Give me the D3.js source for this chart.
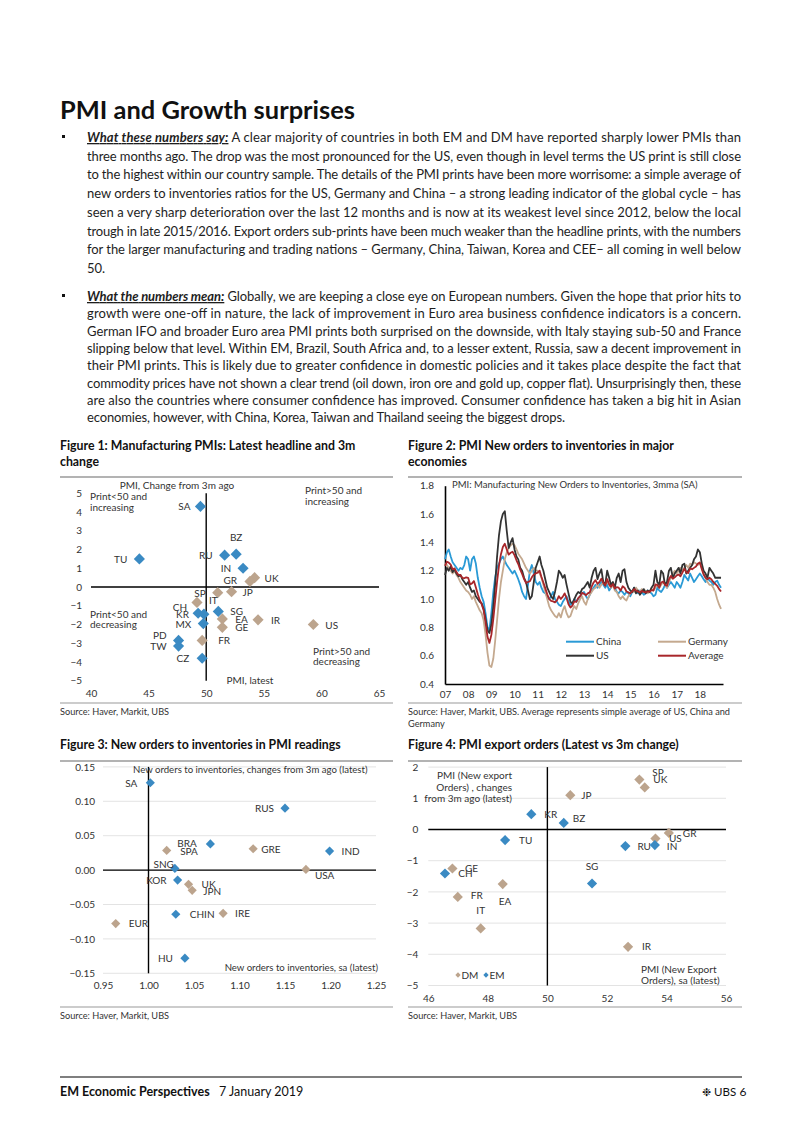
<!DOCTYPE html>
<html><head><meta charset="utf-8">
<script src="https://cdn.jsdelivr.net/npm/d3@7"></script>
<style>
body{margin:0;background:#fff;}
svg text{font-family:Lato,"Open Sans",sans-serif;}
</style></head><body>
<svg id="page" width="802" height="1133"></svg>
<script>
// ---------------- DATA ----------------
// Figure 1: Manufacturing PMIs
const fig1Countries = ["SA","TU","RU","BZ","IN","UK","GR","JP","SP","IT","CH","KR","MX","SG","EA","GE","IR","US","FR","PD","TW","CZ"];
const fig1Latest = [49.5,44.2,51.6,52.6,53.2,54.2,53.8,52.2,51.0,49.2,49.3,49.8,49.75,51.05,51.4,51.4,54.5,59.3,49.65,47.6,47.6,49.65];
const fig1Change = [4.3,1.5,1.7,1.75,1.0,0.5,0.3,-0.25,-0.3,-0.82,-1.4,-1.45,-1.95,-1.3,-1.7,-2.15,-1.75,-2.0,-2.85,-2.85,-3.15,-3.8];
const fig1Group = ["EM","EM","EM","EM","EM","DM","DM","DM","DM","DM","EM","EM","EM","EM","DM","DM","DM","DM","DM","EM","EM","EM"];
const fig1XTicks = [40,45,50,55,60,65];
const fig1YTicks = [-5,-4,-3,-2,-1,0,1,2,3,4,5];

// Figure 2: New orders to inventories (monthly, Jan 2007 - Dec 2018)
const fig2China = [
1.28,1.33,1.35,1.30,1.26,1.24,1.22,1.20,1.22,1.21,1.24,1.30,
1.28,1.20,1.28,1.30,1.25,1.15,1.08,1.02,0.98,0.90,0.80,0.78,
0.90,1.05,1.15,1.22,1.25,1.28,1.30,1.27,1.24,1.22,1.20,1.18,
1.20,1.17,1.14,1.10,1.05,1.02,1.00,1.10,1.20,1.24,1.18,1.12,
1.10,1.12,1.08,1.05,1.04,1.02,1.00,1.02,1.05,1.00,0.98,0.96,
0.95,0.98,1.00,1.02,0.98,0.96,0.97,1.00,0.98,1.00,1.02,1.04,
1.05,1.02,1.00,1.03,1.06,1.08,1.10,1.08,1.10,1.12,1.10,1.08,
1.10,1.06,1.08,1.10,1.08,1.05,1.04,1.06,1.05,1.03,1.05,1.04,
1.02,1.05,1.08,1.06,1.04,1.06,1.05,1.03,1.04,1.06,1.05,1.04,
1.02,1.03,1.08,1.06,1.05,1.07,1.10,1.08,1.10,1.12,1.10,1.08,
1.12,1.10,1.08,1.12,1.17,1.15,1.13,1.18,1.15,1.12,1.14,1.16,
1.18,1.16,1.14,1.12,1.15,1.13,1.12,1.10,1.12,1.13,1.10,1.08];
const fig2Germany = [
1.25,1.24,1.22,1.20,1.18,1.20,1.17,1.15,1.12,1.10,1.08,1.06,
1.05,1.03,1.00,1.02,0.98,0.95,0.92,0.90,0.85,0.75,0.62,0.53,
0.52,0.58,0.70,0.85,1.00,1.12,1.20,1.28,1.33,1.36,1.38,1.39,
1.38,1.35,1.32,1.30,1.28,1.25,1.22,1.20,1.18,1.20,1.22,1.20,
1.20,1.18,1.15,1.10,1.05,1.00,0.95,0.92,0.90,0.88,0.87,0.90,
0.87,0.92,0.95,0.90,0.87,0.88,0.92,0.95,0.93,0.97,1.00,1.02,
0.98,0.96,1.00,1.03,1.05,1.07,1.08,1.10,1.08,1.10,1.12,1.10,
1.12,1.10,1.08,1.10,1.06,1.05,1.02,1.00,1.02,1.00,0.99,1.02,
1.04,1.06,1.05,1.08,1.06,1.05,1.07,1.05,1.06,1.04,1.05,1.07,
1.06,1.08,1.10,1.08,1.10,1.12,1.10,1.08,1.12,1.15,1.18,1.20,
1.18,1.20,1.22,1.20,1.22,1.24,1.22,1.25,1.24,1.26,1.25,1.24,
1.26,1.22,1.18,1.15,1.12,1.10,1.10,1.08,1.05,1.00,0.96,0.93];
const fig2US = [
1.17,1.22,1.20,1.23,1.19,1.21,1.18,1.16,1.17,1.14,1.12,1.10,
1.12,1.08,1.05,1.06,1.02,1.00,0.98,0.97,0.93,0.86,0.78,0.76,
0.82,0.95,1.10,1.30,1.45,1.55,1.60,1.62,1.48,1.36,1.40,1.43,
1.35,1.30,1.28,1.22,1.20,1.15,1.12,1.06,1.00,1.02,1.12,1.22,
1.26,1.30,1.24,1.20,1.14,1.08,1.05,1.02,1.00,1.05,1.12,1.20,
1.18,1.15,1.17,1.10,1.04,0.98,0.97,1.00,1.03,1.05,1.04,1.07,
1.08,1.10,1.12,1.08,1.15,1.20,1.22,1.14,1.18,1.21,1.12,1.10,
1.20,1.15,1.10,1.12,1.08,1.15,1.18,1.12,1.20,1.21,1.12,1.08,
1.06,1.05,1.08,1.04,1.06,1.03,1.05,1.07,1.04,1.06,1.05,1.08,
1.10,1.20,1.12,1.10,1.20,1.18,1.10,1.12,1.20,1.22,1.15,1.18,
1.20,1.22,1.18,1.24,1.25,1.18,1.20,1.22,1.24,1.28,1.30,1.35,
1.33,1.25,1.20,1.18,1.15,1.22,1.20,1.18,1.15,1.15,1.15,1.15];
const fig2YearLabels = ["07","08","09","10","11","12","13","14","15","16","17","18"];
const fig2YTicks = [0.4,0.6,0.8,1.0,1.2,1.4,1.6,1.8];

// Figure 3: New orders to inventories in PMI readings
const fig3Countries = ["SA","RUS","BRA","SPA","GRE","IND","SNG","USA","KOR","UK","JPN","CHIN","IRE","EUR","HU"];
const fig3Level = [1.002,1.150,1.068,1.020,1.115,1.199,1.029,1.173,1.032,1.044,1.048,1.030,1.082,0.964,1.040];
const fig3Change = [0.127,0.090,0.038,0.0286,0.031,0.0276,0.0025,0.001,-0.0145,-0.0207,-0.0294,-0.0642,-0.0628,-0.0777,-0.128];
const fig3Group = ["EM","EM","EM","DM","DM","EM","EM","DM","EM","DM","DM","EM","DM","DM","EM"];
const fig3XTicks = [0.95,1.00,1.05,1.10,1.15,1.20,1.25];
const fig3YTicks = [-0.15,-0.10,-0.05,0,0.05,0.10,0.15];

// Figure 4: PMI export orders
const fig4Countries = ["SP","UK","JP","KR","BZ","GR","US","TU","RU","IN","GE","CH","SG","EA","FR","IT","IR"];
const fig4Level = [53.09,53.27,50.77,49.46,50.55,54.08,53.63,48.58,52.62,53.61,46.81,46.56,51.5,48.5,46.99,47.76,52.71];
const fig4Change = [1.60,1.35,1.10,0.49,0.21,-0.11,-0.29,-0.34,-0.53,-0.50,-1.25,-1.41,-1.73,-1.75,-2.16,-3.17,-3.76];
const fig4Group = ["DM","DM","DM","EM","EM","DM","DM","EM","EM","EM","DM","EM","EM","DM","DM","DM","DM"];
const fig4XTicks = [46,48,50,52,54,56];
const fig4YTicks = [-5,-4,-3,-2,-1,0,1,2];

// ---------------- LABEL LAYOUT (offsets from each point) ----------------
const fig1LabelPos = [[-10,4,"end"],[-12,4,"end"],[-12,4,"end"],[0,-13,"middle"],[-12,4,"end"],[10,4,"start"],[-13,3,"end"],[11,4,"start"],[-12,4,"end"],[12,2,"start"],[-11,-2.5,"end"],[-15,4,"end"],[-12,4,"end"],[12,3.5,"start"],[13,4,"start"],[13,4,"start"],[13,4,"start"],[12,4,"start"],[16,3.5,"start"],[-12,-1.5,"end"],[-12,4,"end"],[-13,4,"end"]];
const fig3LabelPos = [[-13,4,"end"],[-11,4,"end"],[-13.5,3,"end"],[13.5,5,"start"],[8,4,"start"],[12,4,"start"],[-1,0,"end"],[9,10,"start"],[-11,3.5,"end"],[13,3.5,"start"],[11,4.5,"start"],[14,3.5,"start"],[12,3.5,"start"],[13,3.5,"start"],[-12,3.5,"end"]];
const fig4LabelPos = [[13,-3.5,"start"],[8.6,-4,"start"],[11,4,"start"],[13,3.3,"start"],[9,-0.5,"start"],[14,4,"start"],[13.5,3.3,"start"],[14,3.5,"start"],[12,3.5,"start"],[12,4.4,"start"],[12.6,3.3,"start"],[13.3,3.3,"start"],[0,-13.3,"middle"],[2.4,20.4,"middle"],[13,2.6,"start"],[0,-14.2,"middle"],[14,3.5,"start"]];

// ---------------- TEXT ----------------
const para1Lead = "What these numbers say:";
const para1 = [
" A clear majority of countries in both EM and DM have reported sharply lower PMIs than",
"three months ago. The drop was the most pronounced for the US, even though in level terms the US print is still close",
"to the highest within our country sample. The details of the PMI prints have been more worrisome: a simple average of",
"new orders to inventories ratios for the US, Germany and China \u2013 a strong leading indicator of the global cycle \u2013 has",
"seen a very sharp deterioration over the last 12 months and is now at its weakest level since 2012, below the local",
"trough in late 2015/2016. Export orders sub-prints have been much weaker than the headline prints, with the numbers",
"for the larger manufacturing and trading nations \u2013 Germany, China, Taiwan, Korea and CEE\u2013 all coming in well below",
"50."];
const para2Lead = "What the numbers mean:";
const para2 = [
" Globally, we are keeping a close eye on European numbers. Given the hope that prior hits to",
"growth were one-off in nature, the lack of improvement in Euro area business confidence indicators is a concern.",
"German IFO and broader Euro area PMI prints both surprised on the downside, with Italy staying sub-50 and France",
"slipping below that level. Within EM, Brazil, South Africa and, to a lesser extent, Russia, saw a decent improvement in",
"their PMI prints. This is likely due to greater confidence in domestic policies and it takes place despite the fact that",
"commodity prices have not shown a clear trend (oil down, iron ore and gold up, copper flat). Unsurprisingly then, these",
"are also the countries where consumer confidence has improved. Consumer confidence has taken a big hit in Asian",
"economies, however, with China, Korea, Taiwan and Thailand seeing the biggest drops."];

// ---------------- DRAWING ----------------
const svg = d3.select("#page");
const FONT = "Lato, 'Open Sans', sans-serif";
const BLUE = "#3a8ac3", TAN = "#bca48d", TXT = "#1e1e1e";

svg.append("text").attr("x",60).attr("y",119).attr("font-size",25).attr("font-weight",700)
  .attr("fill","#111").attr("textLength",295).attr("lengthAdjust","spacingAndGlyphs").text("PMI and Growth surprises");

function paragraph(lead, lines, y0, lh, lastWidth){
  svg.append("rect").attr("x",62).attr("y",y0-7).attr("width",3).attr("height",3).attr("fill","#111");
  lines.forEach((ln,i)=>{
    const t = svg.append("text").attr("x",87).attr("y",y0+i*lh).attr("font-size",13).attr("fill",TXT);
    if(i===0){
      t.append("tspan").attr("font-style","italic").attr("font-weight",700)
        .attr("text-decoration","underline").text(lead);
    }
    t.append("tspan").text(ln);
    const full = i<lines.length-1;
    const target = full ? 654 : lastWidth;
    if(target) t.attr("textLength",target).attr("lengthAdjust","spacing");
  });
}
paragraph(para1Lead, para1, 142, 18.7, null);
paragraph(para2Lead, para2, 301, 17.3, 478);

// figure frames
function frame(x0,x1,titleLines,titleY,lineY,srcLineY,srcLines){
  titleLines.forEach((s,i)=>svg.append("text").attr("x",x0).attr("y",titleY+i*16).attr("font-size",12.3)
    .attr("font-weight",700).attr("fill","#111").text(s));
  svg.append("line").attr("x1",x0).attr("x2",x1).attr("y1",lineY).attr("y2",lineY).attr("stroke","#9a9a9a").attr("stroke-width",1.6);
  svg.append("line").attr("x1",x0).attr("x2",x1).attr("y1",srcLineY).attr("y2",srcLineY).attr("stroke","#9a9a9a").attr("stroke-width",1.2);
  srcLines.forEach((s,i)=>svg.append("text").attr("x",x0).attr("y",srcLineY+12+i*12).attr("font-size",9.2)
    .attr("fill","#333").text(s));
}
frame(60,393,["Figure 1: Manufacturing PMIs: Latest headline and 3m","change"],450,477,703,["Source:  Haver, Markit, UBS"]);
frame(408,742,["Figure 2: PMI New orders to inventories in major","economies"],450,477,703,
  ["Source:  Haver, Markit, UBS. Average represents simple average of US, China and","Germany"]);
frame(60,393,["Figure 3: New orders to inventories in PMI readings"],749,761,1007,["Source:  Haver, Markit, UBS"]);
frame(408,742,["Figure 4: PMI export orders (Latest vs 3m change)"],749,761,1007,["Source:  Haver, Markit, UBS"]);

function styleAxis(a){
  a.selectAll("text").attr("font-family",FONT).attr("font-size",10).attr("fill","#333");
}

function scatterChart(o){
  const g = svg.append("g");
  const x = d3.scaleLinear().domain(o.xDomain).range(o.xRange);
  const y = d3.scaleLinear().domain(o.yDomain).range(o.yRange);
  if(o.grid){
    g.selectAll("line.grid").data(o.yTicks).join("line").attr("class","grid")
      .attr("x1",o.xRange[0]).attr("x2",o.xRange[1]).attr("y1",d=>y(d)).attr("y2",d=>y(d))
      .attr("stroke","#dcdcdc").attr("stroke-width",0.8);
  }
  const ay = g.append("g").attr("transform",`translate(${o.xRange[0]},0)`)
    .call(d3.axisLeft(y).tickValues(o.yTicks).tickFormat(o.yFmt).tickSize(0).tickPadding(o.yPad));
  ay.select(".domain").remove(); styleAxis(ay);
  const ax = g.append("g").attr("transform",`translate(0,${o.yRange[0]})`)
    .call(d3.axisBottom(x).tickValues(o.xTicks).tickFormat(o.xFmt).tickSize(0).tickPadding(o.xPad));
  ax.select(".domain").remove(); styleAxis(ax);
  g.append("line").attr("x1",x(o.xCross)).attr("x2",x(o.xCross)).attr("y1",y(o.yDomain[1])).attr("y2",y(o.yDomain[0]))
    .attr("stroke","#000").attr("stroke-width",1.4);
  g.append("line").attr("x1",x(o.xDomain[0])).attr("x2",x(o.xDomain[1])).attr("y1",y(o.yCross)).attr("y2",y(o.yCross))
    .attr("stroke","#000").attr("stroke-width",1.4);
  const data = o.names.map((n,i)=>({n,xv:o.xs[i],yv:o.ys[i],grp:o.groups[i],lp:o.labels[i]}));
  g.selectAll("path.pt").data(data).join("path").attr("class","pt")
    .attr("d",d3.symbol(d3.symbolSquare,o.size)())
    .attr("transform",d=>`translate(${x(d.xv)},${y(d.yv)}) rotate(45)`)
    .attr("fill",d=>d.grp==="EM"?BLUE:TAN);
  g.selectAll("text.lbl").data(data).join("text").attr("class","lbl")
    .attr("x",d=>x(d.xv)+d.lp[0]).attr("y",d=>y(d.yv)+d.lp[1]).attr("text-anchor",d=>d.lp[2])
    .attr("font-size",10).attr("fill","#333").text(d=>d.n);
  (o.notes||[]).forEach(nt=>g.append("text").attr("x",nt[0]).attr("y",nt[1]).attr("text-anchor",nt[3]||"start")
    .attr("font-size",nt[4]||10).attr("fill","#333").text(nt[2]));
  return {g,x,y};
}

// Figure 1
scatterChart({
  names:fig1Countries, xs:fig1Latest, ys:fig1Change, groups:fig1Group, labels:fig1LabelPos,
  xDomain:[40,65], xRange:[91,379], yDomain:[-5,5], yRange:[680.75,493.25],
  xTicks:fig1XTicks, yTicks:fig1YTicks, xFmt:d3.format("d"), yFmt:d3.format("d"), xPad:9, yPad:9,
  xCross:50, yCross:0, size:62, grid:false,
  notes:[[177,488.5,"PMI, Change from 3m ago","middle"],[90,500,"Print<50 and"],[90,511,"increasing"],
    [305,494,"Print>50 and"],[305,505,"increasing"],[90,617.5,"Print<50 and"],[90,628,"decreasing"],
    [313,654.5,"Print>50 and"],[313,665,"decreasing"],[250,684,"PMI, latest","middle"]]
});

// Figure 3
scatterChart({
  names:fig3Countries, xs:fig3Level, ys:fig3Change, groups:fig3Group, labels:fig3LabelPos,
  xDomain:[0.95,1.25], xRange:[103,376], yDomain:[-0.15,0.15], yRange:[973.3,766.9],
  xTicks:fig3XTicks, yTicks:fig3YTicks, xFmt:d3.format(".2f"), yFmt:d3.format(".2f"), xPad:8.5, yPad:8,
  xCross:1.0, yCross:0, size:42, grid:true,
  notes:[[133,772.5,"New orders to inventories, changes from 3m ago (latest)","start",9.6],
    [378,971,"New orders to inventories, sa  (latest)","end",9.6]]
});

// Figure 4
scatterChart({
  names:fig4Countries, xs:fig4Level, ys:fig4Change, groups:fig4Group, labels:fig4LabelPos,
  xDomain:[46,56], xRange:[428.3,726], yDomain:[-5,2], yRange:[985.5,767.1],
  xTicks:fig4XTicks, yTicks:fig4YTicks, xFmt:d3.format("d"), yFmt:d3.format("d"), xPad:9, yPad:10,
  xCross:50, yCross:0, size:52, grid:true,
  notes:[[512,779,"PMI (New export","end"],[512,790.5,"Orders) , changes","end"],[512,802,"from 3m ago (latest)","end"],
    [641,972.5,"PMI (New Export"],[641,983.5,"Orders), sa (latest)"]]
});
// Figure 4 legend
[["DM",TAN,458],["EM",BLUE,486]].forEach(([lab,c,lx])=>{
  svg.append("path").attr("d",d3.symbol(d3.symbolSquare,14)()).attr("transform",`translate(${lx},975) rotate(45)`).attr("fill",c);
  svg.append("text").attr("x",lx+3.5).attr("y",978.5).attr("font-size",10).attr("fill","#333").text(lab);
});

// Figure 2
(function(){
  const months = d3.timeMonth.range(new Date(2007,0,1), new Date(2019,0,1));
  const x = d3.scaleTime().domain([new Date(2007,0,1), new Date(2019,0,1)]).range([445,723]);
  const y = d3.scaleLinear().domain([0.4,1.8]).range([684,485.7]);
  const g = svg.append("g");
  const ay = g.append("g").attr("transform","translate(445,0)")
    .call(d3.axisLeft(y).tickValues(fig2YTicks).tickFormat(d3.format(".1f")).tickSize(0).tickSizeOuter(0).tickPadding(11));
  ay.select(".domain").attr("stroke","#000").attr("stroke-width",1.6);
  styleAxis(ay);
  const years = fig2YearLabels.map((s,i)=>new Date(2007+i,0,1));
  const ax = g.append("g").attr("transform","translate(0,684)")
    .call(d3.axisBottom(x).tickValues(years).tickFormat((d,i)=>fig2YearLabels[i]).tickSize(0).tickSizeOuter(0).tickPadding(7));
  ax.select(".domain").attr("stroke","#000").attr("stroke-width",1.6);
  styleAxis(ax);
  const avg = fig2US.map((v,i)=>d3.mean([v,fig2China[i],fig2Germany[i]]));
  const series = [["China",fig2China,"#2a9ad6"],["Germany",fig2Germany,"#c4a98f"],["US",fig2US,"#333333"],["Average",avg,"#a8262a"]];
  const line = d3.line().x((d,i)=>x(months[i])).y(d=>y(d)).curve(d3.curveLinear);
  series.forEach(s=>g.append("path").attr("d",line(s[1])).attr("fill","none").attr("stroke",s[2]).attr("stroke-width",1.8).attr("stroke-linejoin","round"));
  g.append("text").attr("x",452).attr("y",488).attr("font-size",9.5).attr("fill","#333")
    .text("PMI: Manufacturing New Orders to Inventories, 3mma (SA)");
  const leg = [[series[0],566,641.7],[series[1],658,641.7],[series[2],566,655.7],[series[3],658,655.7]];
  leg.forEach(([s,lx,ly])=>{
    g.append("line").attr("x1",lx).attr("x2",lx+28).attr("y1",ly).attr("y2",ly).attr("stroke",s[2]).attr("stroke-width",2);
    g.append("text").attr("x",lx+30).attr("y",ly+3.5).attr("font-size",10).attr("fill","#333").text(s[0]);
  });
})();

// Footer
svg.append("line").attr("x1",60).attr("x2",742).attr("y1",1077).attr("y2",1077).attr("stroke","#555").attr("stroke-width",1.3);
svg.append("text").attr("x",60).attr("y",1096).attr("font-size",12.5).attr("font-weight",700).attr("fill","#111").text("EM Economic Perspectives");
svg.append("text").attr("x",219).attr("y",1096).attr("font-size",12.5).attr("fill","#111").text("7 January 2019");
svg.append("text").attr("x",702).attr("y",1096).attr("font-size",11).attr("fill","#111").attr("font-family","DejaVu Sans").text("\u2749");
svg.append("text").attr("x",714).attr("y",1096).attr("font-size",11.5).attr("fill","#111").attr("font-family","'Liberation Serif',serif").text("UBS");
svg.append("text").attr("x",739.5).attr("y",1096).attr("font-size",12).attr("fill","#111").text("6");
</script>
</body></html>
